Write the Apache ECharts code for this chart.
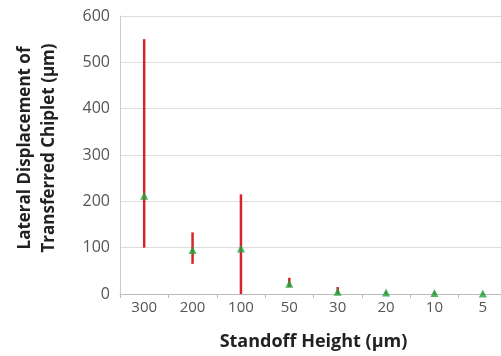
<!DOCTYPE html>
<html>
<head>
<meta charset="utf-8">
<script src="https://cdn.jsdelivr.net/npm/echarts@6/dist/echarts.min.js"></script>
<style>
  html, body { margin: 0; padding: 0; background: #fff; }
  #chart { width: 501px; height: 356px; }
</style>
</head>
<body>
<div id="chart"></div>
<script>
// standoff heights (um) and measured displacement
var heights = ['300', '200', '100', '50', '30', '20', '10', '5'];
var meanDisp = [212, 95, 98, 22, 5, 3, 2, 1];
var lowDisp = [100, 65, 0, 15, 0, 0, 0, 0];
var highDisp = [550, 133, 215, 35, 15, 5, 4, 2];
var yTicks = [0, 100, 200, 300, 400, 500, 600];

var errData = [];
for (var i = 0; i < heights.length; i++) {
    errData.push([i, lowDisp[i], highDisp[i]]);
}

var chart = echarts.init(document.getElementById('chart'));

var option = {
    animation: false,
    grid: { left: 120, right: -6, top: 16, bottom: 62, outerBoundsMode: 'none', containLabel: false },
    xAxis: {
        type: 'category',
        data: heights,
        name: 'Standoff Height (\u03bcm)',
        nameLocation: 'middle',
        nameGap: 39,
        nameTextStyle: { fontFamily: 'Open Sans', fontSize: 18, fontWeight: 'bold', color: '#222' },
        axisLine: { lineStyle: { color: '#bbb' } },
        axisTick: { show: true, length: 4, lineStyle: { color: '#bbb' } },
        axisLabel: { fontFamily: 'Open Sans', fontSize: 15, color: '#555', margin: 6 }
    },
    yAxis: {
        type: 'value',
        min: 0,
        max: 600,
        interval: 100,
        name: 'Lateral Displacement of\nTransferred Chiplet (\u03bcm)',
        nameLocation: 'middle',
        nameRotate: 90,
        nameGap: 59,
        nameTextStyle: { fontFamily: 'Open Sans', fontSize: 17, fontWeight: 'bold', color: '#222', lineHeight: 24, padding: [0, 0, 0, 14] },
        axisLine: { show: true, lineStyle: { color: '#ccc' } },
        axisTick: { show: false },
        splitLine: { lineStyle: { color: '#ddd' } },
        axisLabel: {
            fontFamily: 'Open Sans', fontSize: 16, color: '#555', margin: 10,
            formatter: function (v) { return yTicks.indexOf(v) >= 0 ? String(v) : ''; }
        }
    },
    series: [
        {
            type: 'custom',
            data: errData,
            renderItem: function (params, api) {
                var lo = api.coord([api.value(0), api.value(1)]);
                var hi = api.coord([api.value(0), api.value(2)]);
                return {
                    type: 'line',
                    shape: { x1: lo[0], y1: lo[1], x2: hi[0], y2: hi[1] },
                    style: { stroke: '#d8232a', lineWidth: 2.5 }
                };
            },
            z: 2
        },
        {
            type: 'scatter',
            data: meanDisp,
            symbol: 'triangle',
            symbolSize: 8,
            itemStyle: { color: '#1fa43c' },
            z: 3
        }
    ]
};

chart.setOption(option);
</script>
</body>
</html>
